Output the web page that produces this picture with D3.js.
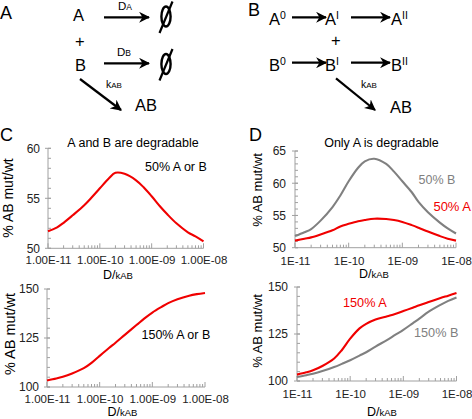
<!DOCTYPE html>
<html><head><meta charset="utf-8">
<script src="https://cdnjs.cloudflare.com/ajax/libs/d3/7.8.5/d3.min.js"></script>
<style>
html,body{margin:0;padding:0;background:#fff;}
svg{display:block;font-family:"Liberation Sans",Arial,Helvetica,sans-serif;}
</style></head>
<body><svg id="chart" width="472" height="419"></svg>
<script>
// ---------- data ----------
const dk = [1e-11, 1.5e-11, 2e-11, 3e-11, 5e-11, 7e-11, 1e-10, 1.5e-10, 2e-10, 3e-10, 5e-10, 7e-10, 1e-9, 1.5e-9, 2e-9, 3e-9, 5e-9, 7e-9, 1e-8];
const cTop50AorB   = [51.7, 52.1, 52.55, 53.3, 54.3, 55.1, 56.0, 57.0, 57.55, 57.45, 56.8, 56.1, 55.2, 54.1, 53.4, 52.5, 51.6, 51.2, 50.7];
const cBot150AorB  = [103.3, 104.3, 105.2, 106.9, 109.6, 112.3, 115.9, 119.9, 122.6, 126.6, 131.6, 134.9, 138.0, 140.9, 142.8, 144.8, 146.6, 147.4, 148.0];
const dTop50B      = [51.8, 52.4, 52.9, 54.2, 56.3, 58.1, 60.3, 62.4, 63.4, 63.8, 63.0, 61.8, 60.3, 58.6, 57.1, 55.5, 53.9, 53.0, 52.2];
const dTop50A      = [51.1, 51.4, 51.6, 52.05, 52.7, 53.3, 53.7, 54.1, 54.3, 54.5, 54.45, 54.3, 54.0, 53.5, 53.1, 52.5, 51.8, 51.4, 51.1];
const dBot150A     = [103.4, 104.6, 105.7, 108.0, 112.0, 116.5, 122.5, 128.0, 130.4, 132.7, 134.5, 135.7, 137.2, 139.0, 140.3, 142.0, 144.1, 145.4, 146.8];
const dBot150B     = [102.1, 103.1, 103.9, 105.3, 107.4, 109.1, 111.0, 113.5, 115.3, 118.3, 121.9, 124.5, 127.2, 130.7, 133.2, 136.9, 140.5, 142.6, 144.4];
const xMajor = [1e-11, 1e-10, 1e-9, 1e-8];
const yTicksC1 = [50, 55, 60];
const yTicksC2 = [100, 125, 150];
const yTicksD1 = [50, 55, 60, 65];
const yTicksD2 = [100, 125, 150];

const RED = "#f00000", GRAY = "#808080", AXIS = "#a0a0a0";
const svg = d3.select("#chart");

// ---------- reaction diagrams ----------
const defs = svg.append("defs");
defs.append("marker").attr("id","ah").attr("viewBox","0 0 10 10")
  .attr("refX",9).attr("refY",5).attr("markerWidth",5).attr("markerHeight",5)
  .attr("markerUnits","strokeWidth").attr("orient","auto")
  .append("path").attr("d","M0,0 L10,5 L0,10 L3,5 Z").attr("fill","#000");

function arrow(x1,y1,x2,y2){
  svg.append("line").attr("x1",x1).attr("y1",y1).attr("x2",x2).attr("y2",y2)
    .attr("stroke","#000").attr("stroke-width",2.2).attr("marker-end","url(#ah)");
}
function txt(x,y,s,size,anchor){
  return svg.append("text").attr("x",x).attr("y",y).attr("font-size",size)
    .attr("text-anchor",anchor||"start").attr("dominant-baseline","central").text(s);
}
function scText(x,y,big,small,bs,ss,anchor){
  const t = svg.append("text").attr("x",x).attr("y",y).attr("text-anchor",anchor||"middle");
  t.append("tspan").attr("font-size",bs).text(big);
  t.append("tspan").attr("font-size",ss).text(small);
  return t;
}
function supText(x,y,base,sup){
  const t = svg.append("text").attr("x",x).attr("y",y).attr("font-size",16.5);
  t.append("tspan").text(base);
  t.append("tspan").attr("font-size",10.5).attr("dy",-6).text(sup);
  return t;
}
function emptySet(cx,cy){
  svg.append("ellipse").attr("cx",cx).attr("cy",cy).attr("rx",4.6).attr("ry",10)
    .attr("fill","none").attr("stroke","#000").attr("stroke-width",2.4);
  svg.append("line").attr("x1",cx+6.5).attr("y1",cy-15).attr("x2",cx-6.5).attr("y2",cy+16.5)
    .attr("stroke","#000").attr("stroke-width",2.2);
}

// Panel A
txt(0,13,"A",18);
txt(73,15,"A",16.5);
txt(75,41,"+",16.5);
txt(75,64.5,"B",16.5);
arrow(104,17.3,149,17.3);
arrow(104,63.3,149,63.3);
scText(125,10,"D","A",11.5,8.5);
scText(124,56,"D","B",11.5,8.5);
emptySet(166,16.5);
emptySet(166,64);
arrow(80,79,121,110);
scText(114,88,"k","AB",10.5,8);
txt(135,105,"AB",16.5);

// Panel B
txt(248,10,"B",18);
supText(269,25,"A","0");
arrow(292,17.3,326,17.3);
supText(325,25,"A","I");
arrow(351,17.3,390,17.3);
supText(391,25,"A","II");
txt(331,40,"+",16.5);
supText(269,70.5,"B","0");
arrow(292,62.7,326,62.7);
supText(325,70.5,"B","I");
arrow(351,62.7,390,62.7);
supText(391,70.5,"B","II");
arrow(336,78.3,375,110);
scText(369,88,"k","AB",10.5,8);
txt(390,106.5,"AB",16.5);

// ---------- charts ----------
function sci(d, digits){
  const e = Math.round(Math.log10(d));
  const m = (d / Math.pow(10, e)).toFixed(digits);
  return m + "E" + (e < 0 ? "-" : "+") + String(Math.abs(e)).padStart(2, "0");
}

function chart(o){
  const x = d3.scaleLog().domain([1e-11,1e-8]).range([o.x0,o.x1]);
  const y = d3.scaleLinear().domain(o.yDom).range([o.yb,o.yt]);
  const g = svg.append("g");
  g.append("line").attr("x1",o.x0).attr("x2",o.x1).attr("y1",o.yb).attr("y2",o.yb).attr("stroke",AXIS);
  g.append("line").attr("x1",o.x0).attr("x2",o.x0).attr("y1",o.yb).attr("y2",o.yt).attr("stroke",AXIS);
  const xt = x.ticks();
  g.selectAll(".xt").data(xt).enter().append("line")
    .attr("x1",d=>x(d)).attr("x2",d=>x(d))
    .attr("y1",o.yb).attr("y2",d=>o.yb - (xMajor.includes(d)?5:3)).attr("stroke",AXIS);
  const xa = d3.axisBottom(x).tickValues(xMajor).tickSize(0).tickPadding(0)
    .tickFormat(d => sci(d, o.digits));
  const xg = g.append("g").attr("transform",`translate(0,${o.yb + o.xlabOff})`).call(xa);
  xg.select(".domain").remove();
  xg.selectAll("text").attr("font-size",11.5).attr("fill","#222")
    .attr("font-family","Liberation Sans, Arial, sans-serif").attr("dy","0.32em").attr("y",0);
  const ymin = d3.range(o.yDom[0], o.yDom[1]+0.001, o.yMinor);
  g.selectAll(".ym").data(ymin).enter().append("line")
    .attr("x1",o.x0).attr("x2",o.x0+3).attr("y1",d=>y(d)).attr("y2",d=>y(d)).attr("stroke",AXIS);
  g.selectAll(".yM").data(o.yTicks).enter().append("line")
    .attr("x1",o.x0-3).attr("x2",o.x0+3).attr("y1",d=>y(d)).attr("y2",d=>y(d)).attr("stroke",AXIS);
  const ya = d3.axisLeft(y).tickValues(o.yTicks).tickSize(0).tickPadding(0);
  const yg = g.append("g").attr("transform",`translate(${o.x0 - o.ylabOff},0)`).call(ya);
  yg.select(".domain").remove();
  yg.selectAll("text").attr("font-size",12).attr("fill","#222")
    .attr("font-family","Liberation Sans, Arial, sans-serif").attr("x",0);
  svg.append("text").attr("transform",`translate(${o.ytx},${o.yty}) rotate(-90)`)
    .attr("text-anchor","middle").attr("dominant-baseline","central")
    .attr("font-size",o.ytSize).text("% AB mut/wt");
  const xt2 = svg.append("text").attr("x",o.xtx).attr("y",o.xty).attr("text-anchor","middle")
    .attr("dominant-baseline","central");
  xt2.append("tspan").attr("font-size",12.5).text("D/");
  xt2.append("tspan").attr("font-size",9.5).text("kAB");
  const line = d3.line().x((d,i)=>x(dk[i])).y(d=>y(d)).curve(d3.curveCatmullRom.alpha(0.5));
  o.series.forEach(s=>{
    g.append("path").datum(s.v).attr("d",line).attr("fill","none")
      .attr("stroke",s.c).attr("stroke-width",2.1).attr("stroke-linejoin","round");
  });
}

chart({x0:48,x1:203.5,yb:248.3,yt:148.3,yDom:[50,60],yTicks:yTicksC1,yMinor:1,
  digits:2,xlabOff:12.5,ylabOff:8,ytx:8,yty:198,ytSize:14,xtx:118,xty:274.5,
  series:[{v:cTop50AorB,c:RED}]});
chart({x0:47,x1:205,yb:387,yt:289,yDom:[100,150],yTicks:yTicksC2,yMinor:5,
  digits:2,xlabOff:12.5,ylabOff:8,ytx:10,yty:334,ytSize:14.5,xtx:122.5,xty:411.5,
  series:[{v:cBot150AorB,c:RED}]});
chart({x0:295,x1:456,yb:247.7,yt:151,yDom:[50,65],yTicks:yTicksD1,yMinor:1,
  digits:0,xlabOff:13.5,ylabOff:9,ytx:257,yty:190,ytSize:13,xtx:374,xty:273.5,
  series:[{v:dTop50B,c:GRAY},{v:dTop50A,c:RED}]});
chart({x0:297,x1:456.5,yb:381,yt:287,yDom:[100,150],yTicks:yTicksD2,yMinor:5,
  digits:0,xlabOff:13,ylabOff:9,ytx:257,yty:331,ytSize:13,xtx:382,xty:411.5,
  series:[{v:dBot150B,c:GRAY},{v:dBot150A,c:RED}]});

txt(0,135,"C",18);
txt(249,135,"D",18);
txt(133,142.7,"A and B are degradable",12.5,"middle");
txt(381.5,142.7,"Only A is degradable",12.5,"middle");
txt(145,166.5,"50% A or B",12.5);
txt(141.5,335,"150% A or B",12.5);
txt(418.5,180,"50% B",12.5).attr("fill",GRAY);
txt(471,206,"50% A",13,"end").attr("fill",RED);
txt(343,303.3,"150% A",12.7).attr("fill",RED);
txt(414,333.3,"150% B",12.7).attr("fill",GRAY);
</script></body></html>
